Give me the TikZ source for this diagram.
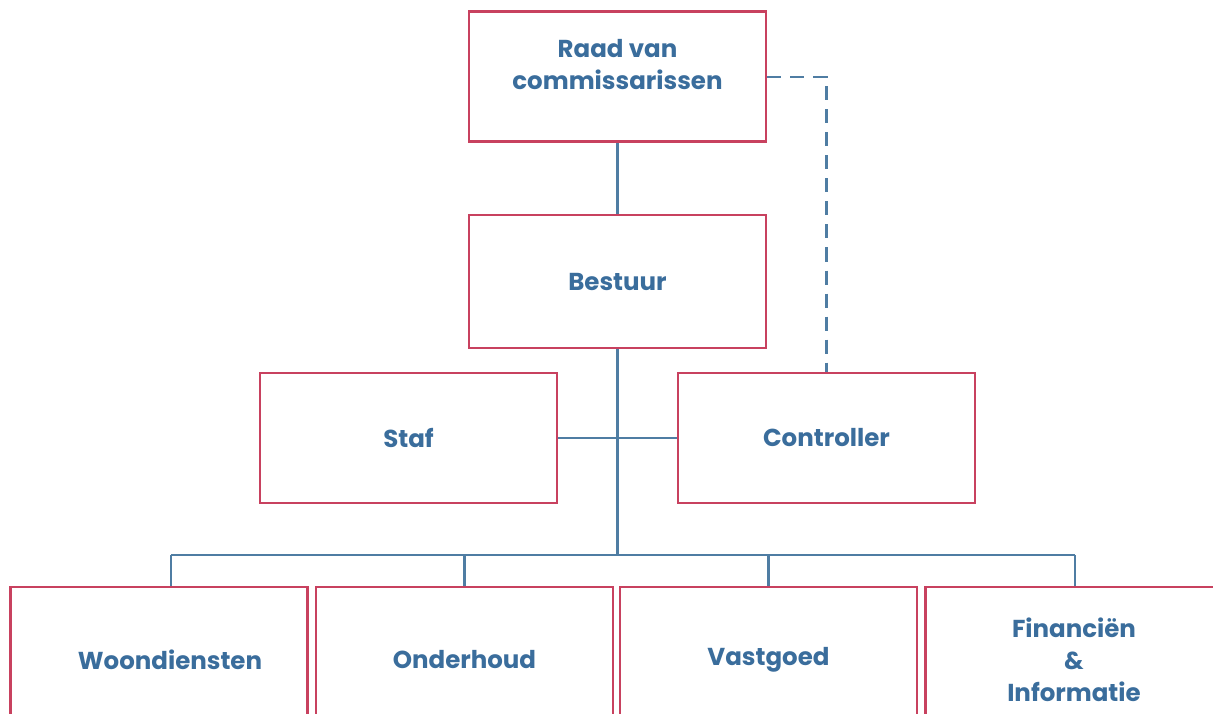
\documentclass[tikz,border=0pt]{standalone}
\usepackage{fontspec}
\setmainfont{Poppins}
\definecolor{boxred}{HTML}{C8415F}
\definecolor{txtblue}{HTML}{3A6D9C}
\definecolor{lineblue}{HTML}{4F7DA3}
\begin{document}
\begin{tikzpicture}[x=1pt,y=-1pt,
  unit/.style={draw=boxred,line width=2.8pt,fill=white,minimum width=297pt,minimum height=130pt,
    inner sep=0pt,text=txtblue,font=\bfseries\fontsize{24.5}{32}\selectfont,align=center},
  low/.style={unit,minimum height=146pt},
  conn/.style={draw=lineblue,line width=2.8pt},
  dconn/.style={conn,dash pattern=on 14pt off 9pt}]
\useasboundingbox (0,0) rectangle (1213,714);
\clip (0,0) rectangle (1213,714);
\fill[white] (0,0) rectangle (1213,714);
% connectors
\coordinate (trunkT) at (617.5,143);
\coordinate (trunkB) at (617.5,555);
\coordinate (busL) at (171,555);
\coordinate (busR) at (1075,555);
\coordinate (dcorner) at (826.5,77);
\coordinate (dstart) at (767,77);
\draw[conn] (trunkT) -- (trunkB);
\draw[conn] (busL) -- (busR);
\draw[conn] (busL) -- (171,590);
\draw[conn] (464.5,555) -- (464.5,590);
\draw[conn] (768.5,555) -- (768.5,590);
\draw[conn] (busR) -- (1075,590);
\draw[conn] (557,438) -- (678,438);
\draw[dconn] (dstart) -- (dcorner) -- (826.5,373);
% nodes
\node[unit] (raad) at (617.5,76.5) {Raad van\\commissarissen\\[-17pt]\strut};
\node[unit,minimum height=133pt] (bestuur) at (617.5,281.5) {Bestuur};
\node[unit] (staf) at (408.5,438) {Staf};
\node[unit] (controller) at (826.5,438) {Controller};
\node[low] (woon) at (159,660) {\hspace*{22pt}Woondiensten};
\node[low] (onder) at (464.5,660) {Onderhoud};
\node[low] (vast) at (768.5,660) {Vastgoed};
\node[low] (fin) at (1074,660) {Financiën\\\&\\Informatie};
\end{tikzpicture}
\end{document}
